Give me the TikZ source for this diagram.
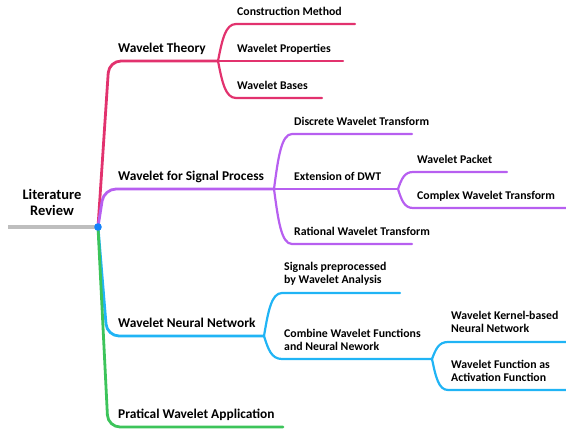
\documentclass[tikz,border=0pt]{standalone}
\usepackage{fontspec}
\setmainfont{Carlito}
\usetikzlibrary{calc}
\definecolor{cred}{RGB}{226,50,110}
\definecolor{cpurple}{RGB}{183,95,240}
\definecolor{cblue}{RGB}{32,180,245}
\definecolor{cgreen}{RGB}{60,196,90}
\definecolor{cgray}{RGB}{190,190,190}
\definecolor{cdot}{RGB}{20,130,250}
\newcommand\rootfont{\bfseries\fontsize{14.5}{16}\selectfont}
\newcommand\mainfont{\bfseries\fontsize{13.4}{15}\selectfont}
\newcommand\subfont{\bfseries\fontsize{11.8}{13.5}\selectfont}
\tikzset{
  mainline/.style={line width=2.8pt, line cap=round, rounded corners=12pt},
  subline/.style={line width=2.2pt, line cap=round},
  branch/.style={to path={let \p1=(\tikztostart), \p2=(\tikztotarget) in
     .. controls ({\x1+0.23*(\x2-\x1)},{\y1+0.57*(\y2-\y1)}) and ({\x1+0.41*(\x2-\x1)},\y2) .. (\tikztotarget) \tikztonodes}},
  mainlbl/.style={anchor=south west, inner sep=0pt, text depth=0pt, align=left, font=\mainfont},
  sublbl/.style={anchor=south west, inner sep=0pt, text depth=0pt, align=left, font=\subfont},
}
\begin{document}
\begin{tikzpicture}[x=1pt,y=-1pt]
\useasboundingbox (0,0) rectangle (566,431);
% root
\coordinate (G) at (8,227);
\coordinate (R) at (98,227);
% main corners and branch points
\coordinate (k1) at (109,61);   \coordinate (B1) at (218,61);
\coordinate (k2) at (104,189);  \coordinate (B2) at (274,189);
\coordinate (k3) at (107,336);  \coordinate (B4) at (264,336);
\coordinate (k4) at (108,427);  \coordinate (E4) at (283,427);
% theory children
\coordinate (cmS) at (236,24);  \coordinate (cmE) at (355,24);
\coordinate (wpE) at (343,61);
\coordinate (wbS) at (236,98);  \coordinate (wbE) at (322,98);
% signal children
\coordinate (dwS) at (292,134); \coordinate (dwE) at (412,134);
\coordinate (B3) at (398,189);
\coordinate (raS) at (292,244); \coordinate (raE) at (412,244);
\coordinate (pkS) at (413,172); \coordinate (pkE) at (507,172);
\coordinate (cxS) at (413,208); \coordinate (cxE) at (566,208);
% neural children
\coordinate (sgS) at (282,293); \coordinate (sgE) at (400,293);
\coordinate (cbS) at (282,359); \coordinate (B5) at (432,359);
\coordinate (knS) at (448,342); \coordinate (knE) at (566,342);
\coordinate (afS) at (448,390); \coordinate (afE) at (566,390);

% root line
\draw[cgray, line width=3.4pt] (G) -- (R);
\node[font=\rootfont, align=center, inner sep=0pt, anchor=base] (root) at (52,215) {Literature\\Review};

% main branches
\draw[mainline, cred] (R) -- (k1) -- (B1);
\draw[mainline, cpurple] (R) -- (k2) -- (B2);
\draw[mainline, cblue] (R) -- (k3) -- (B4);
\draw[mainline, cgreen] (R) -- (k4) -- (E4);
\fill[cdot] (R) circle (3.8pt);

\node[mainlbl] (wt) at (118,53) {Wavelet Theory};
\node[mainlbl] (ws) at (118,181) {Wavelet for Signal Process};
\node[mainlbl] (wn) at (118,328) {Wavelet Neural Network};
\node[mainlbl] (pa) at (118,419) {Pratical Wavelet Application};

% theory
\draw[subline, cred] (B1) to[branch] (cmS) -- (cmE);
\draw[subline, cred] (B1) -- (wpE);
\draw[subline, cred] (B1) to[branch] (wbS) -- (wbE);
\node[sublbl] (cm) at (237,16) {Construction Method};
\node[sublbl] (wp) at (237,53) {Wavelet Properties};
\node[sublbl] (wb) at (237,90) {Wavelet Bases};

% signal process
\draw[subline, cpurple] (B2) to[branch] (dwS) -- (dwE);
\draw[subline, cpurple] (B2) -- (B3);
\draw[subline, cpurple] (B2) to[branch] (raS) -- (raE);
\draw[subline, cpurple] (B3) to[branch] (pkS) -- (pkE);
\draw[subline, cpurple] (B3) to[branch] (cxS) -- (cxE);
\node[sublbl] (dw) at (294,126) {Discrete Wavelet Transform};
\node[sublbl] (ex) at (294,181) {Extension of DWT};
\node[sublbl] (ra) at (294,236) {Rational Wavelet Transform};
\node[sublbl] (pk) at (417,164) {Wavelet Packet};
\node[sublbl] (cx) at (417,200) {Complex Wavelet Transform};

% neural network
\draw[subline, cblue] (B4) to[branch] (sgS) -- (sgE);
\draw[subline, cblue] (B4) to[branch] (cbS) -- (B5);
\draw[subline, cblue] (B5) to[branch] (knS) -- (knE);
\draw[subline, cblue] (B5) to[branch] (afS) -- (afE);
\node[sublbl] (sg) at (284,284) {Signals preprocessed\\by Wavelet Analysis};
\node[sublbl] (cb) at (284,351) {Combine Wavelet Functions\\and Neural Nework};
\node[sublbl] (kn) at (451,333) {Wavelet Kernel-based\\Neural Network};
\node[sublbl] (af) at (451,382) {Wavelet Function as\\Activation Function};
\end{tikzpicture}
\end{document}
